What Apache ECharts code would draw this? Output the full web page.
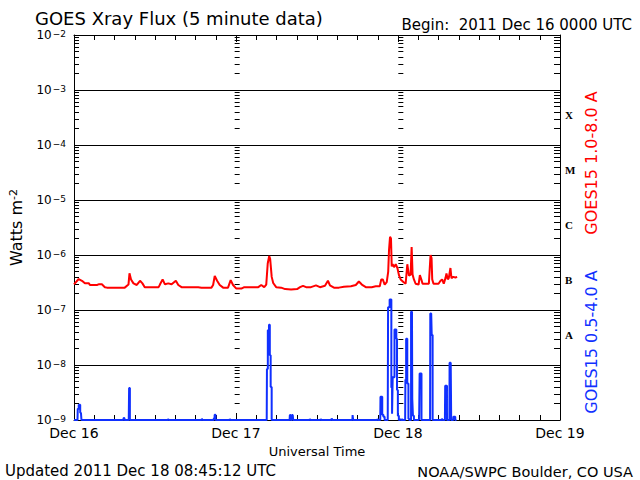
<!DOCTYPE html>
<html><head><meta charset="utf-8">
<script src="https://cdn.jsdelivr.net/npm/echarts@6/dist/echarts.min.js"></script>
<style>html,body{margin:0;padding:0;background:#fff}#c{width:640px;height:480px}</style>
</head><body><div id="c"></div>
<script>
// ---- data (hours since 2011 Dec 16 00:00 UTC) ----
const xTickLabels = ['Dec 16', 'Dec 17', 'Dec 18', 'Dec 19'];
const yTickExponents = [-9, -8, -7, -6, -5, -4, -3, -2];
const flareClasses = ['A', 'B', 'C', 'M', 'X'];

const longHours = [0.00,0.69,1.18,1.62,2.21,2.36,3.39,3.64,4.13,4.57,4.87,7.52,8.07,8.22,8.45,8.81,9.30,9.78,10.14,10.48,12.54,12.73,13.13,13.47,13.97,14.46,15.09,15.45,15.93,18.40,18.89,20.36,20.61,20.85,21.20,21.59,22.09,22.82,23.21,23.56,24.05,24.79,25.23,26.26,27.30,27.74,28.18,28.48,28.70,28.92,29.06,29.29,29.51,29.95,30.69,31.28,32.16,33.05,33.49,33.93,34.38,35.11,35.85,36.44,37.18,37.62,37.92,38.51,39.25,39.98,41.02,41.75,42.20,42.64,43.23,44.11,44.70,45.30,45.52,45.74,46.03,46.33,46.55,46.67,46.82,46.96,47.07,47.21,47.41,47.66,47.91,48.14,48.39,48.84,49.13,49.38,49.62,49.87,50.02,50.16,50.36,50.61,51.05,51.24,51.45,51.64,52.57,52.82,52.97,53.07,53.26,54.00,54.30,54.54,54.78,55.03,55.18,55.37,55.52,55.77,55.92,56.17,56.51,56.76];
const longFlux = [2.93e-7,3.66e-7,3.4e-7,3.05e-7,3.05e-7,2.85e-7,2.85e-7,2.93e-7,2.93e-7,2.6e-7,2.55e-7,2.55e-7,2.9e-7,4.65e-7,3.6e-7,3.05e-7,2.85e-7,3.4e-7,3.05e-7,2.6e-7,2.6e-7,2.9e-7,3.6e-7,2.93e-7,3.05e-7,2.93e-7,3.4e-7,2.85e-7,2.6e-7,2.6e-7,2.55e-7,2.55e-7,2.85e-7,4.15e-7,3.4e-7,2.85e-7,2.55e-7,2.55e-7,3.5e-7,2.85e-7,2.45e-7,2.45e-7,2.6e-7,2.6e-7,2.6e-7,2.85e-7,2.6e-7,2.9e-7,7e-7,9.6e-7,8.5e-7,4e-7,3.1e-7,2.6e-7,2.55e-7,2.4e-7,2.35e-7,2.4e-7,2.6e-7,2.75e-7,2.6e-7,2.6e-7,2.8e-7,2.6e-7,2.75e-7,3.4e-7,2.8e-7,2.55e-7,2.55e-7,2.65e-7,2.7e-7,2.85e-7,3.3e-7,2.9e-7,2.6e-7,2.6e-7,2.7e-7,2.7e-7,3.6e-7,3.6e-7,2.9e-7,3.2e-7,5e-7,1.23e-6,2.15e-6,2.0e-6,6.2e-7,6.8e-7,6.0e-7,6.8e-7,5.8e-7,4.3e-7,3.6e-7,3.2e-7,3.0e-7,6.8e-7,4.2e-7,4.4e-7,1.4e-6,4.4e-7,3.6e-7,3.0e-7,2.9e-7,4.3e-7,3.6e-7,3.0e-7,3.0e-7,1.0e-6,8.8e-7,3.6e-7,3.0e-7,3.0e-7,3.4e-7,3.6e-7,3.0e-7,3.8e-7,4.6e-7,3.6e-7,3.8e-7,5.8e-7,3.8e-7,4.0e-7,3.9e-7,4.0e-7];

const shortHours = [0,0.52,0.59,0.81,1.03,1.18,7.30,7.42,7.52,8.11,8.22,8.34,13.90,13.97,14.07,18.91,18.99,19.09,20.69,20.76,20.91,21.02,23.05,23.12,23.22,28.55,28.62,28.81,28.96,29.06,29.21,29.36,31.94,32.02,32.16,32.41,32.53,34.90,34.97,35.07,36.52,36.59,36.69,38.14,38.21,38.32,41.24,41.31,41.41,44.93,45.00,45.10,45.37,45.44,45.59,45.74,45.93,46.11,46.48,46.58,46.70,46.82,46.96,47.07,47.17,47.26,47.41,47.55,47.70,47.80,47.91,48.05,48.20,48.32,48.39,48.48,48.57,48.64,48.71,49.06,49.13,49.28,49.47,49.62,49.70,49.90,49.97,50.07,50.16,50.26,50.46,51.02,51.09,51.17,51.24,51.39,51.57,52.75,52.82,52.92,53.07,53.19,54.47,54.54,54.61,54.95,55.03,55.18,55.33,55.62,55.66,55.81,55.95,56.18,56.25,56.39,56.58,56.76];
const shortFlux = [1e-9,1e-9,1.6e-9,1.9e-9,1.35e-9,1e-9,1e-9,1.09e-9,1e-9,1e-9,3.8e-9,1e-9,1e-9,1.05e-9,1e-9,1e-9,1.05e-9,1e-9,1e-9,1.08e-9,1.25e-9,1e-9,1e-9,1.05e-9,1e-9,1e-9,8.5e-9,4.3e-8,5.4e-8,1.5e-8,4e-9,1e-9,1e-9,1.23e-9,1e-9,1.23e-9,1e-9,1e-9,1.05e-9,1e-9,1e-9,1.05e-9,1e-9,1e-9,1.07e-9,1e-9,1e-9,1.23e-9,1e-9,1e-9,1.05e-9,1e-9,1e-9,2.65e-9,2.65e-9,1.25e-9,1.15e-9,1e-9,1e-9,1.12e-7,1.12e-7,1.55e-7,1.55e-7,3.9e-9,1.3e-9,6e-9,6e-9,4.4e-8,4.4e-8,3e-8,3.5e-9,1.2e-9,1e-9,1e-9,1.05e-9,1e-9,1e-9,1.05e-9,1e-9,1e-9,5.4e-9,3e-8,4.6e-9,1.05e-9,1e-9,1e-9,9.3e-8,9.3e-8,2.4e-9,1.2e-9,1e-9,1e-9,1.03e-9,1e-9,7e-9,7e-9,1e-9,1e-9,8.6e-8,8.6e-8,3.5e-8,1e-9,1e-9,1.06e-9,1e-9,1e-9,4.2e-9,4.2e-9,1e-9,1e-9,1.1e-8,1.1e-8,1e-9,1e-9,1.15e-9,1.15e-9,1e-9,1e-9];

// ---- chart ----
const FONT = 'DejaVu Sans';
const RED = '#ff0000', BLUE = '#1030ff';
const zip = (a, b) => a.map((v, i) => [v, b[i]]);

// minor log-tick positions (log10 space) for the tick-only axes
const minorLog = [];
for (let e = -9; e < -2; e++) for (let k = 2; k <= 9; k++) minorLog.push(e + Math.log10(k));
const classPos = flareClasses.map((c, i) => -7.45 + i);

function tickAxis(extra) {
  return Object.assign({
    type: 'value', min: -9, max: -2, position: 'left',
    axisLine: { show: false },
    axisTick: { show: true, inside: true, length: 5, customValues: minorLog, lineStyle: { color: '#000', width: 1 } },
    axisLabel: { show: false }, splitLine: { show: false }
  }, extra);
}

const plotW = 488;
const chart = echarts.init(document.getElementById('c'), null, { renderer: 'svg' });
chart.setOption({
  backgroundColor: '#fff',
  animation: false,
  title: [
    { text: 'GOES Xray Flux (5 minute data)', left: 30, top: 3, textStyle: { fontFamily: FONT, fontSize: 18, lineHeight: 20, fontWeight: 'normal', color: '#000' } },
    { text: 'Begin:  2011 Dec 16 0000 UTC', right: 3, top: 12, textStyle: { fontFamily: FONT, fontSize: 15, lineHeight: 16, fontWeight: 'normal', color: '#000' } },
    { text: 'Updated 2011 Dec 18 08:45:12 UTC', left: 0, top: 458, textStyle: { fontFamily: FONT, fontSize: 15, fontWeight: 'normal', color: '#000' } },
    { text: 'NOAA/SWPC Boulder, CO USA', right: 2, top: 459, textStyle: { fontFamily: FONT, fontSize: 14.5, fontWeight: 'normal', color: '#000' } }
  ],
  grid: { left: 72, right: 80, top: 35, bottom: 60, containLabel: false },
  xAxis: [
    { type: 'value', min: 0, max: 72, interval: 24, position: 'bottom',
      name: 'Universal Time', nameLocation: 'middle', nameGap: 22,
      nameTextStyle: { fontFamily: FONT, fontSize: 13, color: '#000', verticalAlign: 'top' },
      axisLine: { lineStyle: { color: '#000', width: 1 } },
      axisTick: { inside: true, length: 7, lineStyle: { color: '#000' } },
      minorTick: { show: true, splitNumber: 8, length: 5, lineStyle: { color: '#000' } },
      axisLabel: { margin: 6, fontFamily: FONT, fontSize: 14, color: '#000', formatter: (v) => xTickLabels[Math.round(v / 24)] },
      splitLine: { show: false } },
    { type: 'value', min: 0, max: 72, interval: 24, position: 'top',
      axisLine: { lineStyle: { color: '#000', width: 1 } },
      axisTick: { inside: true, length: 7, lineStyle: { color: '#000' } },
      minorTick: { show: true, splitNumber: 8, length: 5, lineStyle: { color: '#000' } },
      axisLabel: { show: false }, splitLine: { show: false } }
  ],
  yAxis: [
    { type: 'log', logBase: 10, min: 1e-9, max: 1e-2, interval: 1, position: 'left',
      name: 'Watts m{s|-2}', nameLocation: 'middle', nameRotate: 90, nameGap: 50,
      nameTextStyle: { fontFamily: FONT, fontSize: 16, color: '#000',
        rich: { s: { fontFamily: FONT, fontSize: 11, color: '#000', verticalAlign: 'top', lineHeight: 10 } } },
      axisLine: { show: true, lineStyle: { color: '#000', width: 1 } },
      axisTick: { show: false },
      splitLine: { show: true, lineStyle: { color: '#000', width: 1, type: 'solid' } },
      axisLabel: { margin: 8, color: '#000',
        formatter: (v) => { const e = yTickExponents.find(x => Math.abs(Math.pow(10, x) - v) < v * 1e-6); return '{b|10}{s|−' + Math.abs(e) + '}'; },
        rich: { b: { fontFamily: FONT, fontSize: 12, color: '#000', lineHeight: 12, verticalAlign: 'bottom' },
                s: { fontFamily: FONT, fontSize: 9, color: '#000', lineHeight: 8, verticalAlign: 'top', padding: [0, 0, 0, 1] } } } },
    tickAxis({}),
    tickAxis({ position: 'right', axisLine: { show: true, lineStyle: { color: '#000', width: 1 } },
      axisTick: { show: true, inside: true, length: 6, customValues: minorLog, lineStyle: { color: '#000', width: 1 } },
      axisLabel: { show: true, inside: false, margin: 5, customValues: classPos,
        formatter: (v) => flareClasses[Math.round(v + 7.45)],
        fontFamily: 'Liberation Serif', fontWeight: 'bold', fontSize: 11, color: '#000' } }),
    tickAxis({ offset: -plotW / 3 + 2 }),
    tickAxis({ offset: -2 * plotW / 3 + 1 })
  ],
  graphic: [
    { type: 'text', x: 591, y: 163, rotation: Math.PI / 2,
      style: { text: 'GOES15 1.0-8.0 A', fill: RED, font: '16px "DejaVu Sans"', align: 'center', verticalAlign: 'middle' } },
    { type: 'text', x: 591, y: 342, rotation: Math.PI / 2,
      style: { text: 'GOES15 0.5-4.0 A', fill: BLUE, font: '16px "DejaVu Sans"', align: 'center', verticalAlign: 'middle' } }
  ],
  series: [
    { name: 'GOES15 0.5-4.0 A', type: 'line', xAxisIndex: 0, yAxisIndex: 0, data: zip(shortHours, shortFlux),
      step: 'middle', showSymbol: false, clip: false, lineStyle: { color: BLUE, width: 2 } },
    { name: 'GOES15 1.0-8.0 A', type: 'line', xAxisIndex: 0, yAxisIndex: 0, data: zip(longHours, longFlux),
      showSymbol: false, clip: true, lineStyle: { color: RED, width: 2 } }
  ]
});
</script></body></html>
